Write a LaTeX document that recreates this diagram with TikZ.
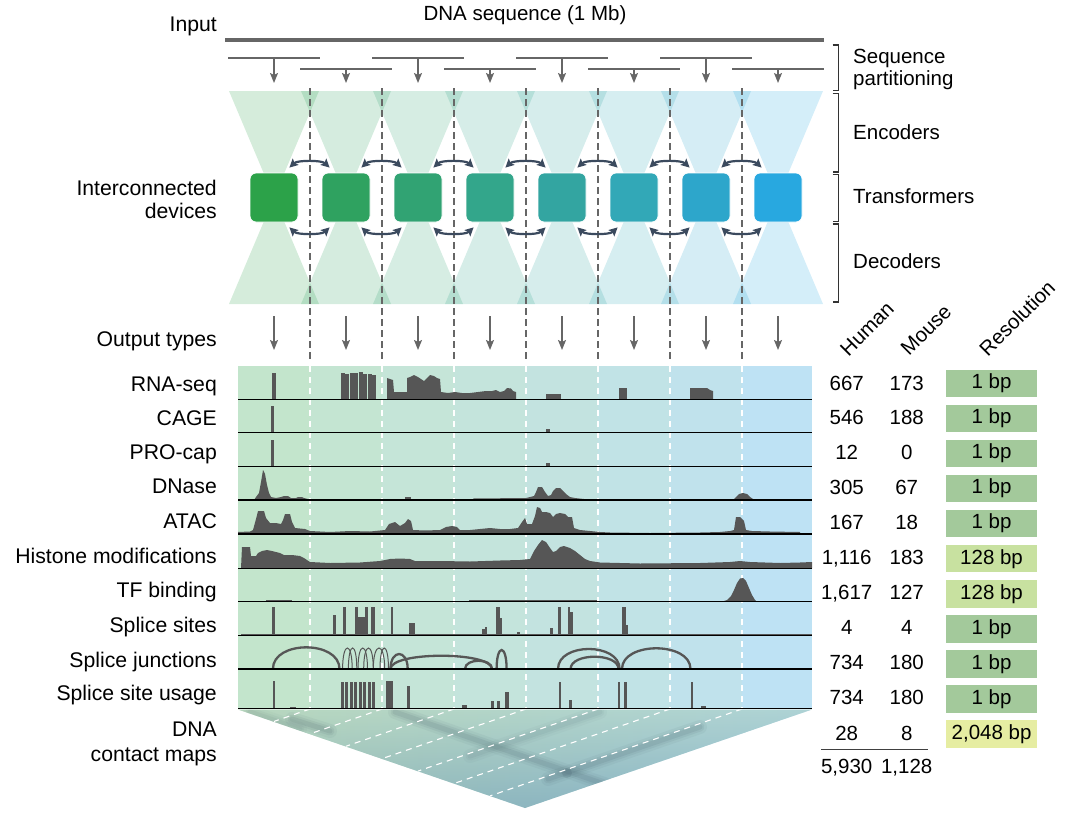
\documentclass[tikz,border=0pt]{standalone}
\usepackage{fontspec}
\setmainfont{Liberation Sans}
\usetikzlibrary{arrows.meta,calc}
\definecolor{chip1}{HTML}{2CA249}
\definecolor{chip2}{HTML}{2FA260}
\definecolor{chip3}{HTML}{31A373}
\definecolor{chip4}{HTML}{33A68B}
\definecolor{chip5}{HTML}{33A5A1}
\definecolor{chip6}{HTML}{32A8B7}
\definecolor{chip7}{HTML}{2DA6CB}
\definecolor{chip8}{HTML}{28A8E0}
\definecolor{bg1}{HTML}{C3E5CC}
\definecolor{bg2}{HTML}{C4E5D2}
\definecolor{bg3}{HTML}{C5E5D8}
\definecolor{bg4}{HTML}{C4E4DC}
\definecolor{bg5}{HTML}{C3E3E0}
\definecolor{bg6}{HTML}{C1E3E6}
\definecolor{bg7}{HTML}{C0E2EC}
\definecolor{bg8}{HTML}{BEE2F4}
\definecolor{lineg}{HTML}{666666}
\definecolor{trk}{HTML}{565656}
\definecolor{darrc}{HTML}{3B4A5E}
\definecolor{res1}{HTML}{A3C99B}
\definecolor{res128}{HTML}{C8E1A0}
\definecolor{res2048}{HTML}{E6EDA2}
\definecolor{cmL}{HTML}{AED2B8}
\definecolor{cmR}{HTML}{9CCAE2}
\definecolor{cmT}{HTML}{C4DEC6}
\definecolor{cmB}{HTML}{6F98B0}
\definecolor{cmBand}{HTML}{2F4555}
\begin{document}
\begin{tikzpicture}[x=1pt,y=-1pt,
  txt/.style={font=\fontsize{20.5}{24}\selectfont, inner sep=0pt, text=black},
  ltxt/.style={font=\fontsize{21.2}{24}\selectfont, inner sep=0pt, text=black},
  chipbox/.style={rounded corners=6pt, minimum width=48pt, minimum height=49pt, draw=white, line width=0.8pt, inner sep=0pt},
  garrow/.style={draw=lineg, line width=1.5pt, -{Stealth[length=10pt,width=8pt,inset=2pt]}},
  darrow/.style={draw=darrc, line width=2.2pt, {Stealth[length=8.5pt,width=8.5pt,inset=1.5pt]}-{Stealth[length=8.5pt,width=8.5pt,inset=1.5pt]}},
  gdash/.style={draw=lineg, line width=1.5pt, dash pattern=on 7pt off 4pt},
  wdash/.style={draw=white, line width=1.3pt, dash pattern=on 6pt off 5pt},
  bline/.style={draw=black, line width=1.3pt},
  bracket/.style={draw=black!80, line width=1.2pt},
  resbox/.style={txt, minimum width=90.7pt, minimum height=27.5pt, anchor=north west},
  thickarc/.style={draw=trk, line width=2.3pt},
  thinarc/.style={draw=trk, line width=1pt},
  band/.style={draw=cmBand, line cap=round},
]
\useasboundingbox (0,0) rectangle (1070,827);

% ---------- input ----------
\node[ltxt, anchor=base east] (input) at (217,31.5) {Input};
\node[txt, anchor=base] (dnaseq) at (525,20.7) {DNA sequence (1 Mb)};
\draw[draw=lineg, line width=3.5pt] (225,40) -- (824,40);

% partitions
\foreach \j in {0,...,3} {
  \pgfmathsetmacro\xa{274+144*\j}
  \pgfmathsetmacro\xb{346+144*\j}
  \draw[draw=lineg, line width=1.5pt] (\xa-46,58) -- (\xa+46,58);
  \draw[draw=lineg, line width=1.5pt] (\xb-46,69) -- (\xb+46,69);
  \coordinate (pa\j) at (\xa,58);
  \coordinate (qa\j) at (\xa,83);
  \coordinate (pb\j) at (\xb,69);
  \coordinate (qb\j) at (\xb,83);
  \draw[garrow] (pa\j) -- (qa\j);
  \draw[garrow] (pb\j) -- (qb\j);
}

% ---------- wedges ----------
\foreach \k [evaluate=\k as \xc using {274+72*(\k-1)}] in {1,...,8} {
  \fill[chip\k, opacity=0.2] (\xc-45,91) -- (\xc+45,91) -- (\xc,197.5) -- cycle;
  \fill[chip\k, opacity=0.2] (\xc-45,304) -- (\xc+45,304) -- (\xc,197.5) -- cycle;
}

% gray dashed separators (top part)
\foreach \k in {0,...,6} {
  \draw[gdash] (310+72*\k,88) -- (310+72*\k,360);
}

% chips
\foreach \k [evaluate=\k as \xc using {274+72*(\k-1)}] in {1,...,8} {
  \node[chipbox, fill=chip\k] (c\k) at (\xc,197.5) {};
}
% double arrows
\foreach \k [evaluate=\k as \n using int(\k+1)] in {1,...,7} {
  \draw[darrow] ($(c\k.north east)+(-9,-5)$) .. controls +(8,-7.5) and +(-8,-7.5) .. ($(c\n.north west)+(8,-5)$);
  \draw[darrow] ($(c\k.south east)+(-9,5)$) .. controls +(8,7.5) and +(-8,7.5) .. ($(c\n.south west)+(8,5)$);
}

% output arrows
\foreach \k in {0,...,7} {
  \coordinate (os\k) at (274+72*\k,316);
  \coordinate (oe\k) at (274+72*\k,350);
  \draw[garrow] (os\k) -- (oe\k);
}

% ---------- right brackets & labels ----------
\draw[bracket] (832.5,45) -- (838.5,45) -- (838.5,90.5) -- (832.5,90.5);
\draw[bracket] (832.5,93.5) -- (838.5,93.5) -- (838.5,172) -- (832.5,172);
\draw[bracket] (832.5,174.5) -- (838.5,174.5) -- (838.5,221.5) -- (832.5,221.5);
\draw[bracket] (832.5,224) -- (838.5,224) -- (838.5,302) -- (832.5,302);
\node[txt, anchor=base west] (seq) at (853,63.3) {Sequence};
\node[txt, anchor=base west] (part) at (853,85.5) {partitioning};
\node[txt, anchor=base west] (enc) at (853,139.3) {Encoders};
\node[txt, anchor=base west] (trf) at (853,203.5) {Transformers};
\node[txt, anchor=base west] (dec) at (853,268.5) {Decoders};

% ---------- left labels ----------
\node[ltxt, anchor=base east] (ic1) at (217,195) {Interconnected};
\node[ltxt, anchor=base east] (ic2) at (217,218) {devices};
\node[ltxt, anchor=base east] (outt) at (217,346.5) {Output types};
\node[ltxt, anchor=base east] (l1) at (217,391.5) {RNA-seq};
\node[ltxt, anchor=base east] (l2) at (217,425) {CAGE};
\node[ltxt, anchor=base east] (l3) at (217,459.5) {PRO-cap};
\node[ltxt, anchor=base east] (l4) at (217,493.5) {DNase};
\node[ltxt, anchor=base east] (l5) at (217,528.5) {ATAC};
\node[ltxt, anchor=base east] (l6) at (217,563.5) {Histone modifications};
\node[ltxt, anchor=base east] (l7) at (217,597.5) {TF binding};
\node[ltxt, anchor=base east] (l8) at (217,632) {Splice sites};
\node[ltxt, anchor=base east] (l9) at (217,667) {Splice junctions};
\node[ltxt, anchor=base east] (l10) at (217,700.5) {Splice site usage};
\node[ltxt, anchor=base east] (l11a) at (217,736.5) {DNA};
\node[ltxt, anchor=base east] (l11b) at (217,761) {contact maps};

% ---------- track background ----------
\foreach \k in {1,...,7} {
  \fill[bg\k] (238+72*\k-72,366) rectangle (238+72*\k,709);
}
\fill[bg8] (742,366) rectangle (812,709);
\foreach \k in {0,...,6} {
  \draw[wdash] (310+72*\k,366) -- (310+72*\k,709);
}

% RNA-seq
\fill[trk] (271.5,373) rectangle (275.5,399.5);
\foreach \a/\t in {340.7/373,345.2/374,349.7/372.5,354.2/373,358.7/372,363.2/373.5,367.7/374,372.2/375}
  \fill[trk] (\a,\t) rectangle (\a+3.8,399.5);
\fill[trk] plot[sharp plot] coordinates {(387,399.5) (387,378) (390,379) (393,380) (394,392) (407,392) (407,378) (410,377) (414,375) (418,377) (421,379) (424,381) (427,378) (430,375) (434,376) (437,378) (440,379) (441,392) (448,393) (455,392) (462,393) (470,393) (478,392) (486,391) (492,391) (496,390) (500,392) (504,391) (507,388) (511,388.5) (513,391) (516,392) (516,399.5)} -- cycle;
\fill[trk] (546,394) rectangle (561,399.5);
\fill[trk] (618.5,388) rectangle (627,399.5);
\fill[trk] plot[sharp plot] coordinates {(690,399.5) (690,388) (707,388) (710,390) (713,391) (713,399.5)} -- cycle;

% CAGE
\fill[trk] (271,406) rectangle (273.8,432.7);
\fill[trk] (546,429) rectangle (549.5,432.7);
% PRO-cap
\fill[trk] (271,440) rectangle (273.8,466.7);
\fill[trk] (546,463) rectangle (549.5,466.7);

% DNase
\fill[trk] plot[sharp plot] coordinates {(254,500) (256,497) (259,493) (261,482) (263,470) (265,474) (267,485) (269,493) (271,497) (276,498) (281,497) (284,496) (288,496) (291,498) (296,498) (298,497) (302,497) (304,498) (308,499) (308,500)} -- cycle;
\fill[trk] (383,498.5) rectangle (431,500);
\fill[trk] (405,497.3) rectangle (411,500);
\fill[trk] plot[sharp plot] coordinates {(473,500) (473,498.5) (526,498) (530,497) (534,496) (536,492) (538,487) (542,487) (545,492) (548,496) (551,495) (553,491) (556,488) (560,488) (563,491) (566,494) (570,497) (575,498) (584,499) (584,500)} -- cycle;
\fill[trk] plot[sharp plot] coordinates {(733,500) (736,497) (739,494) (743,493) (747,494) (750,497) (753,499) (753,500)} -- cycle;

% ATAC
\fill[trk] plot[sharp plot] coordinates {(238,534) (238,532) (250,531.5) (253,530) (256,519) (258,511) (264,511) (266,518) (270,523) (276,523) (281,524) (283,520) (285,514) (290,514) (292,522) (295,528) (305,529) (310,531) (330,532) (350,531) (370,531.5) (385,530) (389,524) (395,522) (400,526) (405,523) (408,519) (411,521) (413,530) (425,530.5) (440,530) (446,527) (452,526) (457,527) (460,530) (470,530) (480,529) (490,528) (500,529) (510,529) (518,528) (522,522) (525,518) (527,524) (532,524) (535,516) (537,507) (540,508) (542,512) (546,512) (550,513) (553,517) (556,514) (560,513) (565,514) (568,517) (572,517) (574,528) (580,530) (590,531) (600,532) (610,532.5) (650,533) (700,532.5) (720,532) (730,531) (734,530) (736,517) (740,517) (744,521) (746,530) (752,531) (770,531.5) (800,532) (800,534)} -- cycle;

% Histone modifications
\fill[trk] plot[sharp plot] coordinates {(241,568.3) (242,547) (250,547) (251,556) (256,556) (258,553) (262,551) (267,550) (272,551) (276,552) (280,553) (284,555) (292,555) (300,556) (304,558) (310,562) (330,563) (360,562.5) (380,561) (390,559) (400,558.5) (410,559) (415,561) (440,561) (470,561.5) (500,560.5) (520,560) (530,559) (534,551) (538,545) (542,540) (546,542) (550,548) (553,552) (556,551) (560,547) (564,546) (570,548) (575,551) (580,555) (585,559) (590,561) (600,562.5) (640,563.5) (700,563) (730,562) (740,561) (750,562) (780,563) (800,562.5) (812,562) (812,568.3)} -- cycle;

% TF binding
\fill[trk] (241,600.5) rectangle (360,601.7);
\fill[trk] (266,599.6) rectangle (292,601.7);
\fill[trk] (469,600.3) rectangle (597,601.7);
\fill[trk] (535,599.6) rectangle (597,601.7);
\fill[trk] plot[sharp plot] coordinates {(722,601.7) (727,600) (731,596) (734,590) (737,583) (740,578.5) (743,578) (746,581) (749,588) (752,595) (755,600) (757,601.7)} -- cycle;

% Splice sites
\fill[trk] (241,633.8) rectangle (812,635.3);
\foreach \a/\b/\t in {271.7/274.8/607, 333.4/336/615, 343/346.4/607, 355/358/607, 358/365/617, 365/367.8/607, 370.6/375/607, 390.5/393.4/607, 408.5/414.6/623, 482/485/628.5, 485/487/626.7, 496/500/607, 500/502/618, 517/519.6/632, 549.5/552.6/628, 558/561/607, 567.5/570/607, 570/572.5/612, 622/626/607, 626/628/625}
  \fill[trk] (\a,\t) rectangle (\b,635.3);

% Splice junctions
\draw[thickarc] (272.9,669) .. controls (272.9,640.1) and (339.5,640.1) .. (339.5,669);
\foreach \a/\b in {342.6/352.2, 348.4/356.8, 358/367.5, 363.7/373.3, 373.3/384.7, 380/388.5}
  \draw[thinarc] (\a,669) .. controls (\a,641) and (\b,641) .. (\b,669);
\draw[thickarc] (390.5,669) .. controls (390.5,649) and (407.7,649) .. (407.7,669);
\draw[thickarc] (390.5,669) .. controls (390.5,651.3) and (492,651.3) .. (492,669);
\draw[thickarc] (465,669) .. controls (465,658) and (492,658) .. (492,669);
\draw[thickarc] (496.6,669) .. controls (496.6,643.7) and (506.6,643.7) .. (506.6,669);
\draw[thickarc] (558,669) .. controls (558,642.3) and (619.6,642.3) .. (619.6,669);
\draw[thickarc] (570.6,669) .. controls (570.6,652.6) and (618.5,652.6) .. (618.5,669);
\draw[thickarc] (622,669) .. controls (622,641.4) and (690.5,641.4) .. (690.5,669);

% Splice site usage
\fill[trk] (252,707.6) rectangle (340,708.7);
\fill[trk] (290,706.8) rectangle (296,708.7);
\foreach \a/\b/\t in {272.5/275/681, 386/393/681, 407/410/686, 462/467/705, 491/494/701, 497/500/701, 505.4/508.5/692.3, 558.7/561/682.3, 568.7/571.7/700, 617.7/620.4/682.3, 624/627/682.3, 690.5/693/682, 701/706/706.3}
  \fill[trk] (\a,\t) rectangle (\b,708.7);
\foreach \a in {340.7,345.2,349.7,354.2,358.7,363.2,367.7,372.2}
  \fill[trk] (\a,681.7) rectangle (\a+2.8,708.7);

% baselines
\foreach \yb in {399.5,432.7,466.7,500,534,568.3,601.7,635.3,669,708.7}
  \draw[bline] (238,\yb) -- (812,\yb);

% ---------- contact map ----------
\begin{scope}
  \clip (238,709.5) -- (812,709.5) -- (525,808) -- cycle;
  \shade[left color=cmL, right color=cmR] (238,709) rectangle (812,808);
  \shade[top color=cmT, bottom color=cmB, opacity=0.45] (238,709) rectangle (812,808);
  \foreach \w/\o in {14/0.05, 9/0.07, 5/0.09} {
    \draw[band, line width=\w pt, opacity=\o] (395,712) -- (610,786);
    \draw[band, line width=\w pt, opacity=\o] (292,719) -- (330,731);
    \draw[band, line width=\w pt, opacity=\o] (700,727) -- (548,779);
    \draw[band, line width=\w pt, opacity=0.6*\o] (600,712) -- (470,756);
    \draw[band, line width=\w pt, opacity=0.6*\o] (250,712) -- (300,729);
  }
  \fill[cmBand, opacity=0.12] (567,773) circle (5);
  \foreach \x in {310,382,454,526,598,670,742}
    \draw[wdash, line width=1.1pt] (\x,709) -- ({(\x+238)/2},{709+(\x-238)/574*99});
\end{scope}

% ---------- table ----------
\node[txt, rotate=45] (hHuman) at (867,329) {Human};
\node[txt, rotate=45] (hMouse) at (926,330) {Mouse};
\node[txt, rotate=45] (hRes) at (1017,318) {Resolution};

\foreach \i/\h/\m/\r/\c [evaluate=\i as \yb using {390+34.95*(\i-1)}, evaluate=\i as \yt using {369.5+35.05*(\i-1)}] in
  {1/667/173/1 bp/res1, 2/546/188/1 bp/res1, 3/12/0/1 bp/res1, 4/305/67/1 bp/res1, 5/167/18/1 bp/res1,
   6/{1,116}/183/128 bp/res128, 7/{1,617}/127/128 bp/res128, 8/4/4/1 bp/res1, 9/734/180/1 bp/res1, 10/734/180/1 bp/res1} {
  \node[txt, anchor=base] (hu\i) at (846.7,\yb) {\h};
  \node[txt, anchor=base] (mo\i) at (906.7,\yb) {\m};
  \node[resbox, fill=\c] (rs\i) at (946,\yt) {\r};
}
\node[txt, anchor=base] (hu11) at (846.7,740) {28};
\node[txt, anchor=base] (mo11) at (906.7,740) {8};
\node[resbox, fill=res2048] (rs11) at (946,720) {2,048 bp};
\draw[draw=black!75, line width=1.2pt] (821,749.5) -- (928,749.5);
\node[txt, anchor=base] (hutot) at (846.7,773) {5,930};
\node[txt, anchor=base] (motot) at (906.7,773) {1,128};
\end{tikzpicture}
\end{document}
